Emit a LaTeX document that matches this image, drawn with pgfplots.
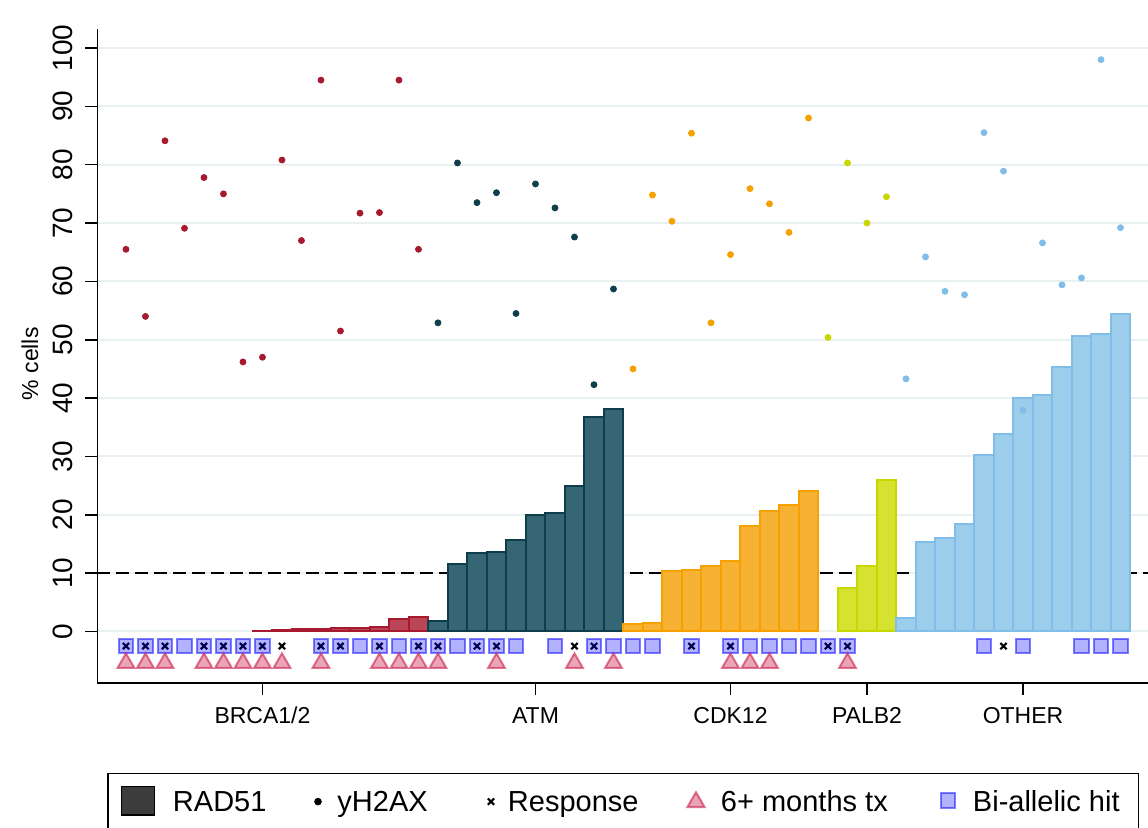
\documentclass[border=0pt]{standalone}
\usepackage{pgfplots}
\pgfplotsset{compat=1.18}
\usepackage{fontspec}
\setmainfont{Liberation Sans}
\definecolor{brcaL}{HTML}{A6192E}
\definecolor{brcaF}{HTML}{BA4658}
\definecolor{atmL}{HTML}{0E3E4C}
\definecolor{atmF}{HTML}{366673}
\definecolor{cdkL}{HTML}{F5A100}
\definecolor{cdkF}{HTML}{F7B133}
\definecolor{palL}{HTML}{C8D700}
\definecolor{palF}{HTML}{D5E22F}
\definecolor{othL}{HTML}{80BDE8}
\definecolor{othF}{HTML}{9CCDEB}
\definecolor{gridc}{HTML}{E9F0F2}
\definecolor{trC}{HTML}{CA204D}
\definecolor{rad}{HTML}{3C3C3C}

\begin{document}
\begin{tikzpicture}
\path[use as bounding box] (-48.75pt,-72pt) rectangle (525.25pt,341.5pt);
\begin{axis}[
  scale only axis, width=525.25pt, height=327pt,
  xmin=-0.46, xmax=53.41, ymin=-8.83, ymax=103.26,
  axis x line*=bottom, axis y line*=left,
  axis line style={line width=0.75pt, black},
  xtick={8,22,32,39,47},
  xticklabels={BRCA1/2,ATM,CDK12,PALB2,OTHER},
  ytick={0,10,...,100},
  tick align=outside, major tick length=6pt,
  tick style={black, line width=0.75pt},
  ymajorgrids, major grid style={gridc, line width=1pt},
  /pgf/number format/assume math mode=true,
  yticklabel style={font=\fontsize{14}{16}\selectfont, rotate=90, anchor=south, inner sep=0pt},
  yticklabel shift=6.4pt,
  xticklabel style={font=\fontsize{11.5}{13}\selectfont, anchor=north, inner sep=0pt},
  xticklabel shift=5.9pt,
  ylabel={\% cells},
  ylabel style={font=\fontsize{11.5}{14}\selectfont, at={(axis description cs:-0.0643,0.488)}, anchor=center},
  legend columns=5,
  legend style={at={(axis description cs:0.009995,-0.1381)}, anchor=north west,
    draw=black, line width=0.75pt, inner sep=0pt, outer sep=0pt, column sep=0pt,
    font=\fontsize{14.5}{17}\selectfont,
    nodes={inner sep=0pt, outer sep=0pt}, cells={anchor=base west}},
]
% reference line at 10
\addplot[black, line width=0.9pt, dash pattern=on 6.5pt off 3pt, forget plot]
  coordinates {(-0.46,10) (53.41,10)};

% RAD51 bars
\addplot[ybar, bar width=1, bar shift=0pt, draw=brcaL, fill=brcaF, line width=1pt, forget plot]
  coordinates {(8,0.1) (9,0.25) (10,0.45) (11,0.45) (12,0.6) (13,0.65) (14,0.75) (15,2.15) (16,2.5)};
\addplot[ybar, bar width=1, bar shift=0pt, draw=atmL, fill=atmF, line width=1pt, forget plot]
  coordinates {(17,1.85) (18,11.6) (19,13.5) (20,13.7) (21,15.6) (22,20.0) (23,20.3) (24,24.9) (25,36.8) (26,38.1)};
\addplot[ybar, bar width=1, bar shift=0pt, draw=cdkL, fill=cdkF, line width=1pt, forget plot]
  coordinates {(27,1.25) (28,1.4) (29,10.3) (30,10.5) (31,11.3) (32,12.0) (33,18.0) (34,20.7) (35,21.6) (36,24.0)};
\addplot[ybar, bar width=1, bar shift=0pt, draw=palL, fill=palF, line width=1pt, forget plot]
  coordinates {(38,7.4) (39,11.2) (40,26.0)};
\addplot[ybar, bar width=1, bar shift=0pt, draw=othL, fill=othF, line width=1pt, forget plot]
  coordinates {(41,2.3) (42,15.3) (43,16.1) (44,18.5) (45,30.3) (46,33.9) (47,40.0) (48,40.5) (49,45.3) (50,50.7) (51,51.0) (52,54.4)};

% yH2AX dots
\addplot[only marks, mark=*, mark size=1.5pt, color=brcaL, forget plot]
  coordinates {(1,65.5) (2,54.0) (3,84.1) (4,69.1) (5,77.8) (6,75.0) (7,46.2) (8,47.0) (9,80.8) (10,67.0) (11,94.5) (12,51.5) (13,71.7) (14,71.8) (15,94.5) (16,65.5)};
\addplot[only marks, mark=*, mark size=1.5pt, color=atmL, forget plot]
  coordinates {(17,52.9) (18,80.3) (19,73.5) (20,75.2) (21,54.5) (22,76.7) (23,72.6) (24,67.6) (25,42.3) (26,58.7)};
\addplot[only marks, mark=*, mark size=1.5pt, color=cdkL, forget plot]
  coordinates {(27,45.0) (28,74.8) (29,70.3) (30,85.4) (31,52.9) (32,64.6) (33,75.9) (34,73.3) (35,68.4) (36,88.0)};
\addplot[only marks, mark=*, mark size=1.5pt, color=palL, forget plot]
  coordinates {(37,50.4) (38,80.3) (39,70.0) (40,74.5)};
\addplot[only marks, mark=*, mark size=1.5pt, color=othL, forget plot]
  coordinates {(41,43.3) (42,64.2) (43,58.3) (44,57.7) (45,85.5) (46,78.9) (47,37.9) (48,66.6) (49,59.4) (50,60.6) (51,98.0) (52,69.2)};

% Response
\addplot[only marks, mark=x, mark size=2.2pt, black, mark options={line width=1.1pt}, forget plot]
  coordinates {(1,-2.5) (2,-2.5) (3,-2.5) (5,-2.5) (6,-2.5) (7,-2.5) (8,-2.5) (9,-2.5) (11,-2.5) (12,-2.5) (14,-2.5) (16,-2.5) (17,-2.5) (19,-2.5) (20,-2.5) (24,-2.5) (25,-2.5) (30,-2.5) (32,-2.5) (37,-2.5) (38,-2.5) (46,-2.5)};
% Bi-allelic hit
\addplot[only marks, mark=square*, mark size=3.6pt, mark options={draw=blue, fill=blue, fill opacity=0.3, draw opacity=0.5, line width=1pt}, forget plot]
  coordinates {(1,-2.5) (2,-2.5) (3,-2.5) (4,-2.5) (5,-2.5) (6,-2.5) (7,-2.5) (8,-2.5) (11,-2.5) (12,-2.5) (13,-2.5) (14,-2.5) (15,-2.5) (16,-2.5) (17,-2.5) (18,-2.5) (19,-2.5) (20,-2.5) (21,-2.5) (23,-2.5) (25,-2.5) (26,-2.5) (27,-2.5) (28,-2.5) (30,-2.5) (32,-2.5) (33,-2.5) (34,-2.5) (35,-2.5) (36,-2.5) (37,-2.5) (38,-2.5) (45,-2.5) (47,-2.5) (50,-2.5) (51,-2.5) (52,-2.5)};
% 6+ months tx
\addplot[only marks, mark=triangle*, mark size=4.8pt, mark options={draw=trC, fill=trC, fill opacity=0.4, draw opacity=0.6, line width=1pt}, forget plot]
  coordinates {(1,-5.4) (2,-5.4) (3,-5.4) (5,-5.4) (6,-5.4) (7,-5.4) (8,-5.4) (9,-5.4) (11,-5.4) (14,-5.4) (15,-5.4) (16,-5.4) (17,-5.4) (20,-5.4) (24,-5.4) (26,-5.4) (32,-5.4) (33,-5.4) (34,-5.4) (38,-5.4)};

% legend
\addlegendimage{legend image code/.code={
  \path[draw=none, fill=none] (0pt,-15pt) rectangle (32.5pt,19.25pt);
  \draw[line width=0.75pt, draw=black, fill=rad] (6.75pt,-1.5pt) rectangle (23.25pt,12.65pt);}}
\addlegendentry{\makebox[63.5pt][l]{RAD51}}
\addlegendimage{legend image code/.code={
  \path[draw=none, fill=none] (0pt,0pt) rectangle (18.75pt,1pt);
  \path[draw=none, fill=none] plot[mark=*, mark size=1.5pt, mark options={draw=black, fill=black}] coordinates {(9pt,5.1pt)};}}
\addlegendentry{\makebox[66.25pt][l]{yH2AX}}
\addlegendimage{legend image code/.code={
  \path[draw=none, fill=none] (0pt,0pt) rectangle (19pt,1pt);
  \path[draw=none, fill=none] plot[mark=x, mark size=2.2pt, mark options={draw=black, line width=1.1pt}] coordinates {(10.5pt,5.1pt)};}}
\addlegendentry{\makebox[83.5pt][l]{Response}}
\addlegendimage{legend image code/.code={
  \path[draw=none, fill=none] (0pt,0pt) rectangle (23pt,1pt);
  \path[draw=none, fill=none] plot[mark=triangle*, mark size=5pt, mark options={draw=trC, fill=trC, fill opacity=0.4, draw opacity=0.6, line width=1pt}] coordinates {(10.5pt,4.8pt)};}}
\addlegendentry{\makebox[102pt][l]{6+ months tx}}
\addlegendimage{legend image code/.code={
  \path[draw=none, fill=none] (0pt,0pt) rectangle (24pt,1pt);
  \path[draw=none, fill=none] plot[mark=square*, mark size=3.6pt, mark options={draw=blue, fill=blue, fill opacity=0.3, draw opacity=0.5, line width=1pt}] coordinates {(11.5pt,5.6pt)};}}
\addlegendentry{\makebox[82.75pt][l]{Bi-allelic hit}}
\end{axis}
\end{tikzpicture}
\end{document}
